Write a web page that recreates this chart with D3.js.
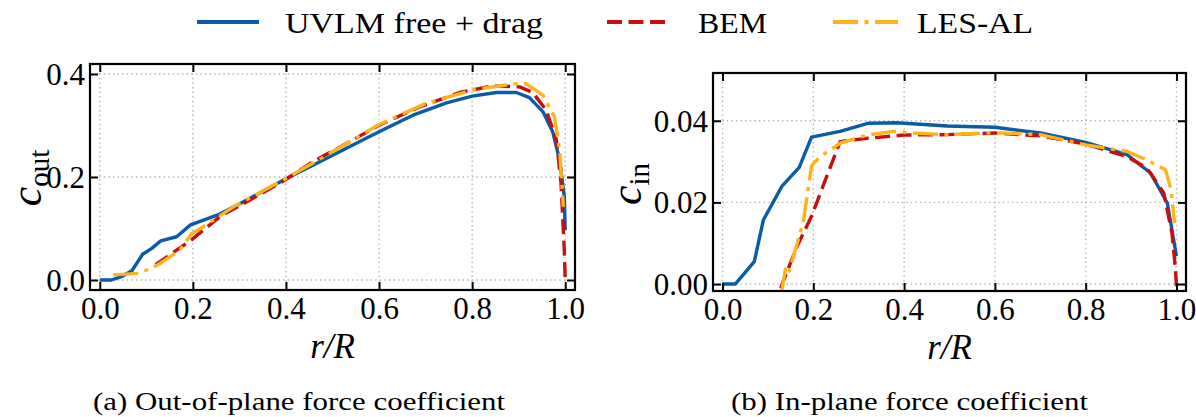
<!DOCTYPE html>
<html>
<head>
<meta charset="utf-8">
<script src="https://cdn.jsdelivr.net/npm/d3@7"></script>
<style>
  html, body { margin: 0; padding: 0; background: #fff; }
  svg { display: block; }
  text { font-family: "Liberation Serif", "Times New Roman", serif; fill: #000; }
</style>
</head>
<body>
<svg id="fig" width="1196" height="417"></svg>
<script>
// ---- spanwise force coefficient distributions ----
const seriesNames = ["UVLM free + drag", "BEM", "LES-AL"];

// (a) out-of-plane coefficient
const uvlmOutR = [0, 0.025, 0.045, 0.069, 0.092, 0.111, 0.131, 0.165, 0.195, 0.258, 0.315, 0.401, 0.458, 0.530, 0.600, 0.673, 0.745, 0.800, 0.852, 0.895, 0.923, 0.952, 0.973, 0.988, 0.998, 1.0];
const uvlmOut  = [0, 0, 0.006, 0.018, 0.050, 0.061, 0.076, 0.084, 0.107, 0.128, 0.155, 0.197, 0.223, 0.256, 0.288, 0.320, 0.344, 0.357, 0.364, 0.364, 0.354, 0.327, 0.288, 0.233, 0.162, 0.097];

const bemOutR = [0.12, 0.197, 0.258, 0.330, 0.398, 0.458, 0.530, 0.601, 0.687, 0.773, 0.845, 0.902, 0.930, 0.959, 0.981, 0.991, 0.998, 1.0];
const bemOut  = [0.030, 0.078, 0.123, 0.159, 0.194, 0.230, 0.265, 0.301, 0.336, 0.364, 0.377, 0.375, 0.364, 0.330, 0.272, 0.188, 0.058, 0.0];

const lesOutR = [0.029, 0.083, 0.111, 0.129, 0.172, 0.197, 0.215, 0.287, 0.400, 0.458, 0.600, 0.701, 0.802, 0.888, 0.916, 0.952, 0.977, 0.988, 0.996];
const lesOut  = [0.010, 0.013, 0.023, 0.032, 0.058, 0.090, 0.099, 0.142, 0.197, 0.227, 0.302, 0.343, 0.369, 0.381, 0.381, 0.359, 0.317, 0.252, 0.142];

// (b) in-plane coefficient
const uvlmInR = [0, 0.028, 0.070, 0.090, 0.131, 0.169, 0.196, 0.259, 0.322, 0.384, 0.495, 0.600, 0.700, 0.800, 0.891, 0.943, 0.980, 1.0];
const uvlmIn  = [0, 0, 0.0055, 0.0157, 0.0240, 0.0286, 0.0360, 0.0374, 0.0394, 0.0395, 0.0387, 0.0384, 0.0370, 0.0347, 0.0317, 0.0272, 0.0198, 0.0068];

const bemInR = [0.128, 0.164, 0.196, 0.259, 0.318, 0.400, 0.495, 0.600, 0.700, 0.800, 0.891, 0.935, 0.972, 0.990, 0.998, 1.0];
const bemIn  = [-0.001, 0.0092, 0.0166, 0.0349, 0.0357, 0.0365, 0.0366, 0.0370, 0.0363, 0.0343, 0.0312, 0.0284, 0.0223, 0.0125, 0.0035, -0.001];

const lesInR = [0.130, 0.140, 0.147, 0.178, 0.196, 0.215, 0.259, 0.318, 0.377, 0.414, 0.495, 0.600, 0.700, 0.800, 0.891, 0.935, 0.976, 0.988, 0.996];
const lesIn  = [-0.002, 0.0045, 0.0032, 0.0152, 0.0290, 0.0312, 0.0345, 0.0365, 0.0374, 0.0370, 0.0366, 0.0371, 0.0366, 0.0341, 0.0325, 0.0304, 0.0280, 0.0231, 0.0149];

// tick values
const rTicks = [0, 0.2, 0.4, 0.6, 0.8, 1.0];
const outTicks = [0, 0.2, 0.4];
const inTicks = [0, 0.02, 0.04];

const captions = ["(a) Out-of-plane force coefficient", "(b) In-plane force coefficient"];

// ---- styling ----
const colors = ["#0b5ca8", "#c80f0f", "#ffb31a"];
const dashes = [null, "15,6.5", "25,6.5,4,6.5"];
const lineW = 3.4;

const svg = d3.select("#fig");

function zip(xs, ys) { return xs.map((x, i) => [x, ys[i]]); }

function panel(cfg) {
  const x = d3.scaleLinear().domain([-0.021, 1.021]).range([cfg.left, cfg.right]);
  const y = d3.scaleLinear().domain(cfg.yDomain).range([cfg.bottom, cfg.top]);
  const w = cfg.right - cfg.left, h = cfg.bottom - cfg.top;
  const g = svg.append("g");

  // dotted grid
  g.append("g").selectAll("line").data(rTicks).join("line")
    .attr("x1", d => x(d)).attr("x2", d => x(d))
    .attr("y1", cfg.top).attr("y2", cfg.bottom)
    .attr("stroke", "#b3b3b3").attr("stroke-width", 1.4).attr("stroke-dasharray", "1.4,3.2");
  g.append("g").selectAll("line").data(cfg.yTicks).join("line")
    .attr("x1", cfg.left).attr("x2", cfg.right)
    .attr("y1", d => y(d)).attr("y2", d => y(d))
    .attr("stroke", "#b3b3b3").attr("stroke-width", 1.4).attr("stroke-dasharray", "1.4,3.2");

  // data lines, clipped to the axes box
  const clipId = "clip" + cfg.id;
  svg.append("clipPath").attr("id", clipId).append("rect")
    .attr("x", cfg.left).attr("y", cfg.top).attr("width", w).attr("height", h);
  const line = d3.line().x(d => x(d[0])).y(d => y(d[1]));
  const lg = g.append("g").attr("clip-path", `url(#${clipId})`);
  cfg.series.forEach((s, i) => {
    lg.append("path").datum(s)
      .attr("d", line)
      .attr("fill", "none")
      .attr("stroke", colors[i])
      .attr("stroke-width", lineW)
      .attr("stroke-linejoin", "round")
      .attr("stroke-dasharray", dashes[i]);
  });

  // inward ticks on all four sides
  const tickFont = 31;
  const axB = g.append("g").attr("transform", `translate(0,${cfg.bottom})`)
    .call(d3.axisBottom(x).tickValues(rTicks).tickSize(-8).tickPadding(5).tickFormat(d3.format(".1f")));
  const axT = g.append("g").attr("transform", `translate(0,${cfg.top})`)
    .call(d3.axisTop(x).tickValues(rTicks).tickSize(-8).tickFormat(""));
  const axL = g.append("g").attr("transform", `translate(${cfg.left},0)`)
    .call(d3.axisLeft(y).tickValues(cfg.yTicks).tickSize(-8).tickPadding(5).tickFormat(d3.format(cfg.yFmt)));
  const axR = g.append("g").attr("transform", `translate(${cfg.right},0)`)
    .call(d3.axisRight(y).tickValues(cfg.yTicks).tickSize(-8).tickFormat(""));
  [axB, axT, axL, axR].forEach(a => {
    a.select(".domain").remove();
    a.selectAll(".tick line").attr("stroke", "#000").attr("stroke-width", 2);
    a.selectAll("text").attr("font-size", tickFont).attr("fill", "#000");
  });
  axB.selectAll("text").attr("dy", "0.76em");
  axL.selectAll("text").attr("dy", "0.34em");

  // frame
  g.append("rect").attr("x", cfg.left).attr("y", cfg.top).attr("width", w).attr("height", h)
    .attr("fill", "none").attr("stroke", "#000").attr("stroke-width", 2.2);

  // x label r/R
  g.append("text").attr("x", (x(0) + x(1)) / 2).attr("y", cfg.bottom + 68)
    .attr("text-anchor", "middle").attr("font-size", 35).attr("font-style", "italic")
    .text("r/R");

  // y label c with subscript
  const yl = g.append("text")
    .attr("transform", `translate(${cfg.yLabelX},${cfg.yLabelY}) rotate(-90)`)
    .attr("text-anchor", "middle");
  yl.append("tspan").attr("font-size", 44).attr("font-style", "italic").text("c");
  yl.append("tspan").attr("font-size", 29).attr("dy", 8).text(cfg.sub);

  // caption
  g.append("text").attr("x", cfg.capX).attr("y", 410)
    .attr("font-size", 24.5).attr("textLength", cfg.capLen).attr("lengthAdjust", "spacingAndGlyphs")
    .text(cfg.caption);
}

panel({
  id: "a", left: 90, right: 575, top: 64, bottom: 290,
  yDomain: [-0.0194, 0.4194], yTicks: outTicks, yFmt: ".1f",
  series: [zip(uvlmOutR, uvlmOut), zip(bemOutR, bemOut), zip(lesOutR, lesOut)],
  sub: "out", yLabelX: 41, yLabelY: 178,
  caption: captions[0], capX: 93, capLen: 412
});

panel({
  id: "b", left: 713, right: 1186, top: 73, bottom: 291,
  yDomain: [-0.0017, 0.0517], yTicks: inTicks, yFmt: ".2f",
  series: [zip(uvlmInR, uvlmIn), zip(bemInR, bemIn), zip(lesInR, lesIn)],
  sub: "in", yLabelX: 641, yLabelY: 184,
  caption: captions[1], capX: 731, capLen: 357
});

// ---- legend ----
const legendItems = [
  { x0: 197, x1: 259, tx: 285, tlen: 258 },
  { x0: 607, x1: 669, tx: 698, tlen: 69 },
  { x0: 833, x1: 898, tx: 917, tlen: 116 }
];
const leg = svg.append("g");
legendItems.forEach((it, i) => {
  leg.append("line").attr("x1", it.x0).attr("x2", it.x1).attr("y1", 22).attr("y2", 22)
    .attr("stroke", colors[i]).attr("stroke-width", 4).attr("stroke-dasharray", dashes[i]);
  leg.append("text").attr("x", it.tx).attr("y", 33)
    .attr("font-size", 30).attr("textLength", it.tlen).attr("lengthAdjust", "spacingAndGlyphs")
    .text(seriesNames[i]);
});
</script>
</body>
</html>
